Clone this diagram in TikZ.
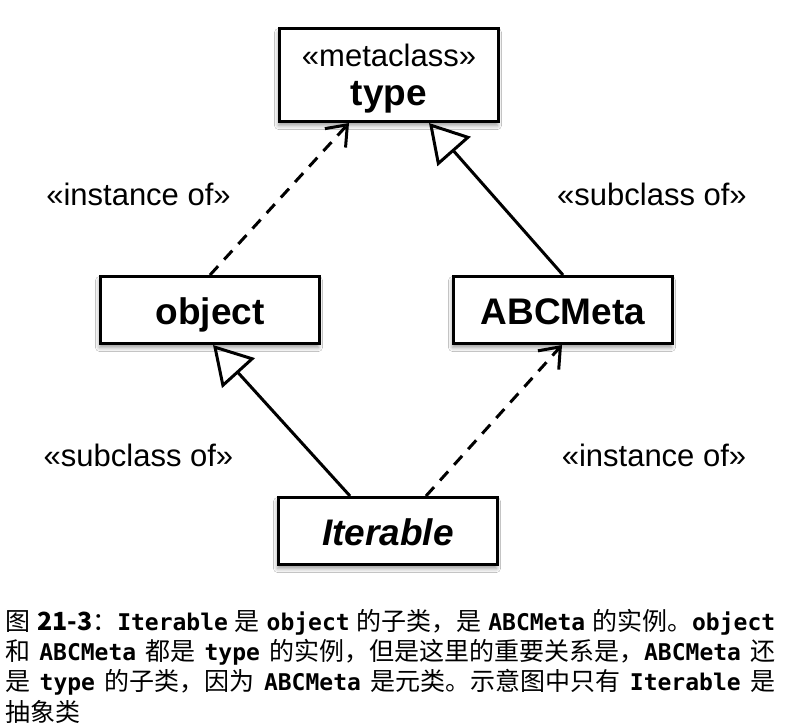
\documentclass[tikz,border=0pt]{standalone}
\usepackage{fontspec}
\setmainfont{Liberation Sans}
\newfontfamily\cjkfont{Noto Sans CJK SC}
\newfontfamily\codefont{DejaVu Sans Mono}
\usetikzlibrary{%
    arrows.meta,
    positioning,
    shadows.blur
}
\tikzset{classbox/.style = {draw, line width=3pt, fill=white,
        minimum width=219pt, minimum height=67pt, inner sep=0pt,
        text height=28pt, text depth=0pt,
        font=\fontsize{37}{37}\selectfont\bfseries,
        blur shadow={shadow xshift=-1pt, shadow yshift=-4pt,
            shadow blur radius=4pt, shadow blur steps=6}}}
\tikzset{stereo/.style = {font=\fontsize{31}{37}\selectfont, anchor=base}}
\tikzset{instarrow/.style = {line width=3pt, dash pattern=on 12pt off 9pt,
        -{Straight Barb[length=18pt, width=28pt]}}}
\tikzset{subarrow/.style = {line width=3pt,
        -{Triangle[open, length=38pt, width=44pt]}}}
\tikzset{captionline/.style = {anchor=west, inner sep=0pt,
        font=\cjkfont\fontsize{25}{30}\selectfont}}
\newcommand{\cd}[1]{{\codefont\fontsize{23}{30}\selectfont\bfseries #1}}
\newcommand{\gap}{\hspace{6pt plus 20pt}}

\begin{document}
\begin{tikzpicture}[x=1pt, y=-1pt]
    \fill[white] (0,0) rectangle (790,725);
    \useasboundingbox (0,0) rectangle (790,725);

    \node[classbox, minimum height=93pt, align=center,
        text height=, text depth=] (type) at (389,75)
        {{\fontsize{31}{37}\selectfont\mdseries\rule{0pt}{30pt}«metaclass»}\\[2pt]type};
    \node[classbox] (object) at (210,310) {object};
    \node[classbox] (ABCMeta) at (563,310) {ABCMeta};
    \node[classbox, font=\fontsize{37}{37}\selectfont\bfseries\itshape]
        (Iterable) at (388,531) {Iterable};

    \node[stereo] (instTop) at (138.5,205) {«instance of»};
    \node[stereo] (subTop) at (652,205) {«subclass of»};
    \node[stereo] (subBot) at (138.5,466) {«subclass of»};
    \node[stereo] (instBot) at (654,466) {«instance of»};

    \draw[instarrow] (object.north) to ([xshift=-40pt]type.south);
    \draw[subarrow] (ABCMeta.north) to ([xshift=40pt]type.south);
    \draw[subarrow] ([xshift=-38pt]Iterable.north) to ([xshift=3pt]object.south);
    \draw[instarrow] ([xshift=38pt]Iterable.north) to ([xshift=-1pt]ABCMeta.south);

    % caption below the figure
    \node[captionline] (capA) at (5,622) {\makebox[770pt][s]{图\gap\textbf{21-3}：\cd{Iterable}\gap 是\gap\cd{object}\gap 的子类，是\gap\cd{ABCMeta}\gap 的实例。\cd{object}}};
    \node[captionline] (capB) at (5,652) {\makebox[770pt][s]{和\gap\cd{ABCMeta}\gap 都是\gap\cd{type}\gap 的实例，但是这里的重要关系是，\cd{ABCMeta}\gap 还}};
    \node[captionline] (capC) at (5,682) {\makebox[770pt][s]{是\gap\cd{type}\gap 的子类，因为\gap\cd{ABCMeta}\gap 是元类。示意图中只有\gap\cd{Iterable}\gap 是}};
    \node[captionline] (capD) at (5,712) {抽象类};
\end{tikzpicture}
\end{document}
